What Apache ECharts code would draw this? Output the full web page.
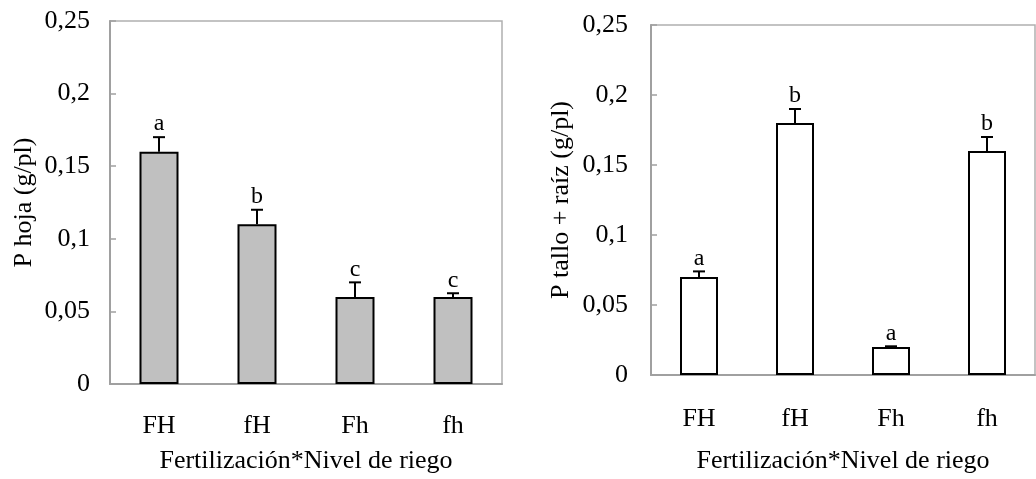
<!DOCTYPE html>
<html>
<head>
<meta charset="utf-8">
<script src="https://cdn.jsdelivr.net/npm/echarts@6/dist/echarts.min.js"></script>
<style>
  html, body { margin: 0; padding: 0; background: #ffffff; }
  #chart { width: 1036px; height: 479px; }
</style>
</head>
<body>
<div id="chart"></div>
<script>
// datos
const categories = ["FH", "fH", "Fh", "fh"];
const hojaValues = [0.16, 0.11, 0.06, 0.06];
const hojaErrors = [0.01, 0.01, 0.01, 0.0025];
const hojaLetters = ["a", "b", "c", "c"];
const talloValues = [0.07, 0.18, 0.02, 0.16];
const talloErrors = [0.004, 0.01, 0.0005, 0.01];
const talloLetters = ["a", "b", "a", "b"];
const yTicks = [0, 0.05, 0.1, 0.15, 0.2, 0.25];

const font = "'Liberation Serif', 'Times New Roman', serif";
const axisGray = "#a0a0a0";

function fmt(v) {
  return String(+v.toFixed(2)).replace(".", ",");
}

// separaciones de cada panel (izq / der)
const labelMargin = [29, 31];
const xNameGap = [64, 73];
const yNameGap = [73, 77];
const yLabelMargin = [20, 23];

function xAxisFor(idx) {
  return {
    type: "category",
    gridIndex: idx,
    data: categories,
    name: "Fertilización*Nivel de riego",
    nameLocation: "middle",
    nameGap: xNameGap[idx],
    nameTextStyle: { fontFamily: font, fontSize: 26, color: "#000" },
    axisLine: { lineStyle: { color: axisGray, width: 2 } },
    axisTick: { inside: true, length: 6, lineStyle: { color: axisGray, width: 1.5 } },
    axisLabel: { fontFamily: font, fontSize: 26, color: "#000", margin: labelMargin[idx] }
  };
}

function yAxisFor(idx, title) {
  return {
    type: "value",
    gridIndex: idx,
    min: yTicks[0],
    max: yTicks[yTicks.length - 1],
    interval: 0.05,
    name: title,
    nameLocation: "middle",
    nameGap: yNameGap[idx],
    nameTextStyle: { fontFamily: font, fontSize: 26, color: "#000" },
    splitLine: { show: false },
    axisLine: { show: true, lineStyle: { color: axisGray, width: 2 } },
    axisTick: { show: true, inside: true, length: 6, lineStyle: { color: axisGray, width: 1.5 } },
    axisLabel: { fontFamily: font, fontSize: 26, color: "#000", margin: yLabelMargin[idx], formatter: fmt }
  };
}

function errorSeries(idx, values, errors, letters) {
  return {
    type: "custom",
    xAxisIndex: idx,
    yAxisIndex: idx,
    z: 5,
    data: values.map((v, i) => [i, v, v + errors[i]]),
    renderItem: function (params, api) {
      const base = api.coord([api.value(0), api.value(1)]);
      const top = api.coord([api.value(0), api.value(2)]);
      const half = 6;
      return {
        type: "group",
        children: [
          { type: "line", shape: { x1: base[0], y1: base[1], x2: top[0], y2: top[1] },
            style: { stroke: "#000", lineWidth: 2 } },
          { type: "line", shape: { x1: top[0] - half, y1: top[1], x2: top[0] + half, y2: top[1] },
            style: { stroke: "#000", lineWidth: 2 } },
          { type: "text", x: top[0], y: top[1] - 1,
            style: { text: letters[params.dataIndex], fontFamily: font, fontSize: 24, fill: "#000",
              align: "center", verticalAlign: "bottom" } }
        ]
      };
    }
  };
}

const chart = echarts.init(document.getElementById("chart"));
chart.setOption({
  animation: false,
  backgroundColor: "#ffffff",
  grid: [
    { left: 110, top: 21, width: 392, height: 370, show: true, borderColor: "#b0b0b0", borderWidth: 1.5 },
    { left: 651, top: 25, width: 384, height: 355, show: true, borderColor: "#b0b0b0", borderWidth: 1.5 }
  ],
  xAxis: [xAxisFor(0), xAxisFor(1)],
  yAxis: [yAxisFor(0, "P hoja (g/pl)"), yAxisFor(1, "P tallo + raíz (g/pl)")],
  series: [
    {
      type: "bar", xAxisIndex: 0, yAxisIndex: 0, data: hojaValues, barWidth: 39,
      itemStyle: { color: "#c0c0c0", borderColor: "#000", borderWidth: 2 }
    },
    errorSeries(0, hojaValues, hojaErrors, hojaLetters),
    {
      type: "bar", xAxisIndex: 1, yAxisIndex: 1, data: talloValues, barWidth: 38,
      itemStyle: { color: "#ffffff", borderColor: "#000", borderWidth: 2 }
    },
    errorSeries(1, talloValues, talloErrors, talloLetters)
  ]
});
</script>
</body>
</html>
